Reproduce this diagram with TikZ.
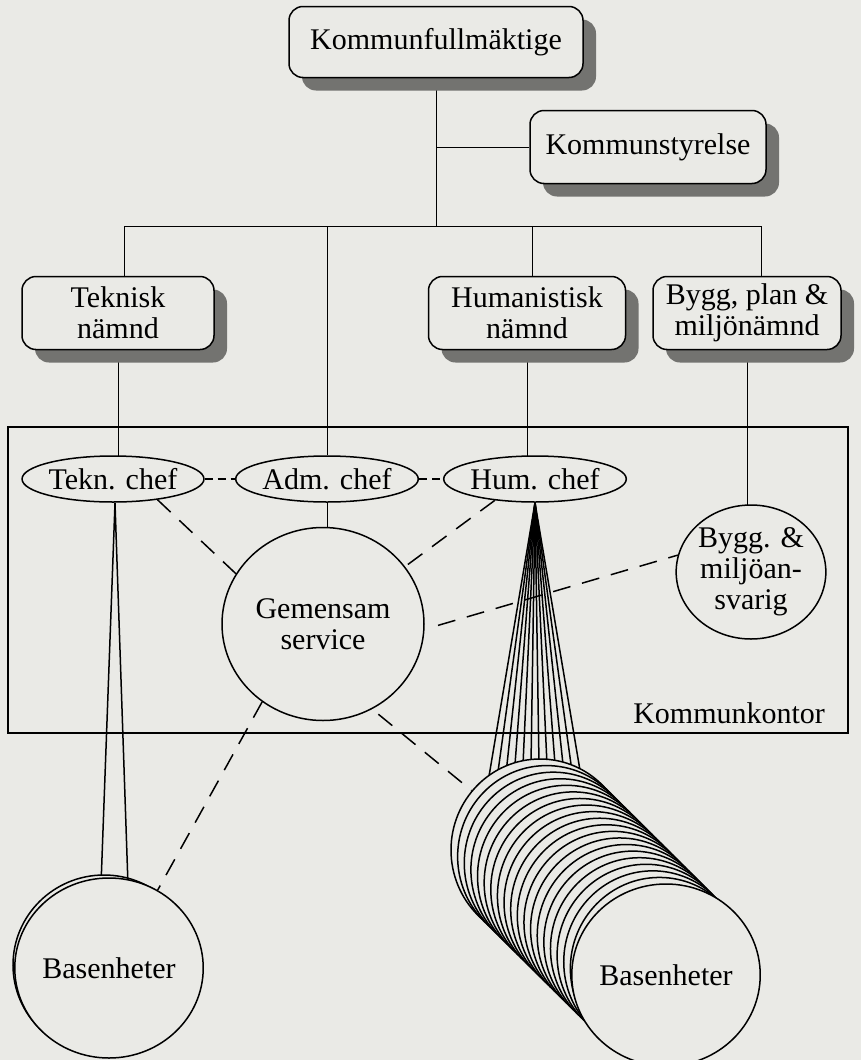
\documentclass[tikz,border=0pt]{standalone}
\usepackage{fontspec}
\setmainfont{Liberation Serif}
\usetikzlibrary{shapes.geometric,shadows,backgrounds}

\definecolor{paper}{RGB}{234,234,230}
\definecolor{shade}{RGB}{115,115,112}

\tikzset{
  box/.style={draw, rounded corners=14pt, fill=paper, align=center, inner sep=0pt,
    drop shadow={shadow xshift=13pt, shadow yshift=-13pt, fill=shade, opacity=1}},
  oval/.style={draw, ellipse, fill=paper, align=center, inner sep=0pt},
  link/.style={dash pattern=on 18pt off 12pt},
  near/.style={dash pattern=on 8pt off 5pt}
}

\begin{document}
\begin{tikzpicture}[x=1pt, y=-1pt, line width=1.5pt, font=\fontsize{30}{31}\selectfont]
  \useasboundingbox (0,0) rectangle (861,1060);

  % fullmäktige and styrelse
  \node[box, minimum width=294pt, minimum height=71pt] (kf) at (436,42) {Kommunfullmäktige};
  \node[box, minimum width=236pt, minimum height=73pt] (ks) at (648,147) {Kommunstyrelse};

  % nämnder
  \node[box, minimum width=192pt, minimum height=73pt] (tek) at (118,313) {Teknisk\\nämnd};
  \node[box, minimum width=197pt, minimum height=73pt] (hum) at (527,313) {Humanistisk\\nämnd};
  \node[box, minimum width=188pt, minimum height=73pt] (byg) at (747,313) {Bygg, plan \&\\miljönämnd};

  % kommunkontor
  \draw (8,427) rectangle (848,733);
  \node[anchor=east] (kk) at (829,713) {Kommunkontor};

  \node[oval, minimum width=176pt, minimum height=46pt] (tc) at (113,479) {Tekn. chef};
  \node[oval, minimum width=170pt, minimum height=46pt] (ac) at (327,479) {Adm. chef};
  \node[oval, minimum width=173pt, minimum height=46pt] (hc) at (535,479) {Hum. chef};
  \node[oval, minimum width=202pt, minimum height=193pt] (gs) at (323,624) {Gemensam\\service};
  \node[oval, minimum width=134pt, minimum height=134pt] (bm) at (751,572) {Bygg. \&\\miljöan-\\svarig};

  % fans down to basenheter
  \coordinate (ta) at (115,503);
  \foreach \x in {101,128} \draw (ta) -- (\x,885);
  \foreach \i in {0,...,11} \draw (hc.south) -- ({485+100*\i/11},800);

  % basenheter
  \node[oval, minimum width=182pt, minimum height=180pt] (bl0) at (104,965) {};
  \node[oval, minimum width=182pt, minimum height=180pt] (bl) at (109,968) {Basenheter};
  \foreach \i in {0,...,18}
    \node[oval, minimum width=178pt, minimum height=182pt] (br\i) at ({540+126*\i/19},{850+125*\i/19}) {};
  \node[oval, minimum width=178pt, minimum height=182pt] (br) at (666,975) {Basenheter};

  % dashed contacts
  \draw[near] (tc) -- (ac);
  \draw[near] (ac) -- (hc);
  \draw[link] (tc.-25) -- (gs.150);
  \draw[link] (hc.208) -- (gs.35);
  \draw[link, shorten <=14pt] (gs.-3) -- (bm.167);
  \draw[link] (gs.232) -- (bl.58);
  \draw[link, shorten <=8pt] (gs.300) -- (br0.139);

  \begin{scope}[on background layer]
    \fill[paper] (0,0) rectangle (861,1060);
    \coordinate (bk) at (436,226);
    \coordinate (bt) at (124,226);
    \coordinate (ba) at (327,226);
    \coordinate (bh) at (532,226);
    \coordinate (bb) at (761,226);
    \draw (kf.south) -- (bk);
    \draw (bk |- ks.west) -- (ks.west);
    \draw (bt) -- (bb);
    \draw (bt) -- (bt |- tek.north);
    \draw (ba) -- (ac.north);
    \draw (bh) -- (bh |- hum.north);
    \draw (bb) -- (bb |- byg.north);
    \draw (tek.south) -- (tek.south |- tc.center);
    \draw (hum.south) -- (hum.south |- hc.center);
    \draw (byg.south) -- (byg.south |- bm.center);
    \draw (ac.center) -- (ac.center |- gs.center);
  \end{scope}
\end{tikzpicture}
\end{document}
